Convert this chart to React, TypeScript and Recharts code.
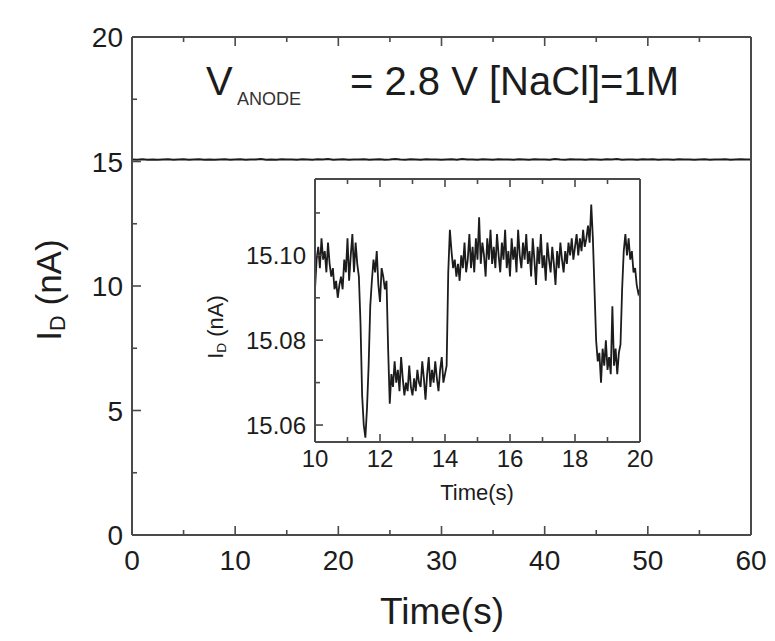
import { LineChart, Line, XAxis, YAxis, Label } from "recharts";

const FONT = "Arial, 'Liberation Sans', Helvetica, sans-serif";
const AXIS = "#4a4a4a";
const INK = "#1c1c1c";

// main trace: sampled every 0.5 s from 0 s
const mainT0 = 0;
const mainDt = 0.5;
const mainCurrent = [
  15.08, 15.07, 15.09, 15.07, 15.08, 15.07, 15.08, 15.09, 15.07, 15.08,
  15.09, 15.07, 15.08, 15.09, 15.07, 15.08, 15.07, 15.08, 15.09, 15.07,
  15.08, 15.09, 15.07, 15.08, 15.08, 15.10, 15.07, 15.08, 15.07, 15.09,
  15.08, 15.08, 15.07, 15.09, 15.08, 15.07, 15.09, 15.08, 15.10, 15.07,
  15.08, 15.09, 15.07, 15.08, 15.08, 15.09, 15.07, 15.08, 15.09, 15.07,
  15.08, 15.10, 15.08, 15.07, 15.09, 15.08, 15.07, 15.09, 15.08, 15.08,
  15.07, 15.08, 15.09, 15.07, 15.10, 15.08, 15.08, 15.07, 15.09, 15.08,
  15.07, 15.09, 15.08, 15.08, 15.07, 15.09, 15.08, 15.07, 15.09, 15.08,
  15.08, 15.07, 15.10, 15.08, 15.07, 15.09, 15.08, 15.08, 15.07, 15.09,
  15.08, 15.07, 15.09, 15.08, 15.10, 15.07, 15.08, 15.08, 15.07, 15.09,
  15.08, 15.09, 15.07, 15.08, 15.08, 15.07, 15.09, 15.08, 15.08, 15.07,
  15.08, 15.09, 15.07, 15.08, 15.08, 15.09, 15.07, 15.08, 15.09, 15.08,
  15.08,
];
const mainXTicks = [0, 5, 10, 15, 20, 25, 30, 35, 40, 45, 50, 55, 60];
const mainYTicks = [0, 2.5, 5, 7.5, 10, 12.5, 15, 17.5, 20];

// inset trace: sampled every 0.05 s from 10 s
const insetT0 = 10;
const insetDt = 0.05;
const insetCurrent = [
  // 10.00 - 11.35
  15.092, 15.099, 15.102, 15.097, 15.104, 15.099, 15.101, 15.096, 15.103, 15.098,
  15.095, 15.097, 15.092, 15.094, 15.090, 15.093, 15.095, 15.092, 15.099, 15.096,
  15.104, 15.094, 15.100, 15.105, 15.096, 15.103, 15.098, 15.095,
  // 11.40 - 11.75
  15.084, 15.067, 15.060, 15.057, 15.064, 15.074, 15.088, 15.094,
  // 11.80 - 12.30
  15.099, 15.096, 15.101, 15.093, 15.089, 15.097, 15.095, 15.092, 15.094,
  15.078, 15.065,
  // 12.35 - 14.05
  15.072, 15.069, 15.075, 15.070, 15.073, 15.068, 15.076, 15.071, 15.067, 15.070,
  15.068, 15.074, 15.069, 15.067, 15.071, 15.068, 15.073, 15.070, 15.069, 15.075,
  15.071, 15.066, 15.072, 15.076, 15.069, 15.073, 15.070, 15.075, 15.071, 15.068,
  15.073, 15.076, 15.070, 15.072, 15.074,
  // 14.10 - 14.15
  15.096, 15.106,
  // 14.20 - 18.55
  15.101, 15.097, 15.099, 15.095, 15.098, 15.094, 15.100, 15.097, 15.103, 15.096,
  15.099, 15.105, 15.097, 15.102, 15.096, 15.104, 15.099, 15.109, 15.098, 15.103,
  15.100, 15.095, 15.104, 15.099, 15.106, 15.098, 15.102, 15.097, 15.105, 15.100,
  15.096, 15.103, 15.099, 15.106, 15.097, 15.101, 15.095, 15.104, 15.099, 15.102,
  15.096, 15.106, 15.100, 15.097, 15.103, 15.099, 15.105, 15.098, 15.101, 15.095,
  15.104, 15.099, 15.093, 15.102, 15.098, 15.105, 15.097, 15.100, 15.094, 15.103,
  15.099, 15.096, 15.102, 15.098, 15.093, 15.101, 15.097, 15.103, 15.099, 15.096,
  15.101, 15.098, 15.103, 15.100, 15.104, 15.099, 15.102, 15.105, 15.100, 15.104,
  15.101, 15.106, 15.102, 15.104, 15.107, 15.103, 15.112, 15.104,
  // 18.60 - 18.70
  15.092, 15.080, 15.075,
  // 18.75 - 19.40
  15.077, 15.070, 15.078, 15.074, 15.080, 15.073, 15.076, 15.072, 15.088, 15.074,
  15.078, 15.072, 15.077, 15.079,
  // 19.45 - 20.00
  15.092, 15.101, 15.105, 15.100, 15.104, 15.099, 15.101, 15.096, 15.097, 15.093,
  15.091, 15.092,
];
const insetXTicks = [10, 11, 12, 13, 14, 15, 16, 17, 18, 19, 20];
const insetYTicks = [15.06, 15.07, 15.08, 15.09, 15.1, 15.11];

const mainData = mainCurrent.map((v, i) => ({ t: +(mainT0 + i * mainDt).toFixed(3), v }));
const insetData = insetCurrent.map((v, i) => ({ t: +(insetT0 + i * insetDt).toFixed(3), v }));

type Side = "bottom" | "top" | "left" | "right";

function makeTick(
  side: Side,
  isMajor: (v: number) => boolean,
  o: { major: number; minor: number; fmt?: (v: number) => string; size?: number; gap?: number }
) {
  return (props: any) => {
    const { x, y, payload } = props;
    const v = payload.value as number;
    const major = isMajor(v);
    const len = major ? o.major : o.minor;
    let x2 = x;
    let y2 = y;
    if (side === "bottom") y2 = y - len;
    if (side === "top") y2 = y + len;
    if (side === "left") x2 = x + len;
    if (side === "right") x2 = x - len;
    let label = null;
    if (o.fmt && major) {
      const fs = o.size || 28;
      if (side === "bottom") {
        label = (
          <text x={x} y={y + (o.gap || 0)} textAnchor="middle" fontSize={fs} fill={INK} fontFamily={FONT}>
            {o.fmt(v)}
          </text>
        );
      } else {
        label = (
          <text x={x - (o.gap || 0)} y={y + fs * 0.36} textAnchor="end" fontSize={fs} fill={INK} fontFamily={FONT}>
            {o.fmt(v)}
          </text>
        );
      }
    }
    return (
      <g>
        <line x1={x} y1={y} x2={x2} y2={y2} stroke={AXIS} strokeWidth={1.6} />
        {label}
      </g>
    );
  };
}

const mainXMajor = (v: number) => v % 10 === 0;
const mainYMajor = (v: number) => v % 5 === 0;
const insetXMajor = (v: number) => Math.round(v) % 2 === 0;
const insetYMajor = (v: number) => Math.round(v * 100) % 2 === 0;

const axisLine = { stroke: AXIS, strokeWidth: 2 };
const bare = { tickLine: false, tickSize: 0, tickMargin: 0, interval: 0 as const };

function YLabel(cx: number, cy: number, size: number, sub: number) {
  return (
    <text
      x={cx}
      y={cy}
      transform={`rotate(-90 ${cx} ${cy})`}
      textAnchor="middle"
      dominantBaseline="central"
      fontSize={size}
      fill={INK}
      fontFamily={FONT}
    >
      I
      <tspan fontSize={size * 0.62} dy={sub}>
        D
      </tspan>
      <tspan dy={-sub}> (nA)</tspan>
    </text>
  );
}

export default function App() {
  return (
    <div style={{ position: "absolute", left: 0, top: 0, width: 775, height: 641, background: "#fff" }}>
      <LineChart width={775} height={641} data={mainData} margin={{ top: 0, right: 0, bottom: 0, left: 0 }}>
        <XAxis
          xAxisId="b"
          dataKey="t"
          type="number"
          domain={[0, 60]}
          ticks={mainXTicks}
          height={106}
          axisLine={axisLine}
          {...bare}
          tick={makeTick("bottom", mainXMajor, { major: 9, minor: 5, fmt: (v) => String(v), size: 28, gap: 35 })}
        >
          <Label
            content={() => (
              <text x={442} y={624} textAnchor="middle" fontSize={37} fill={INK} fontFamily={FONT}>
                Time(s)
              </text>
            )}
          />
        </XAxis>
        <XAxis
          xAxisId="top"
          orientation="top"
          dataKey="t"
          type="number"
          domain={[0, 60]}
          ticks={mainXTicks}
          height={37}
          axisLine={axisLine}
          {...bare}
          tick={makeTick("top", mainXMajor, { major: 9, minor: 5 })}
        />
        <YAxis
          yAxisId="l"
          type="number"
          domain={[0, 20]}
          ticks={mainYTicks}
          width={132}
          axisLine={axisLine}
          {...bare}
          tick={makeTick("left", mainYMajor, { major: 9, minor: 5, fmt: (v) => String(v), size: 28, gap: 9 })}
        >
          <Label content={() => YLabel(48, 290, 35, 9)} />
        </YAxis>
        <YAxis
          yAxisId="r"
          orientation="right"
          type="number"
          domain={[0, 20]}
          ticks={mainYTicks}
          width={24}
          axisLine={axisLine}
          {...bare}
          tick={makeTick("right", mainYMajor, { major: 9, minor: 5 })}
        />
        <Line
          xAxisId="b"
          yAxisId="l"
          dataKey="v"
          type="linear"
          stroke={INK}
          strokeWidth={2.2}
          dot={false}
          isAnimationActive={false}
        />
      </LineChart>

      <div style={{ position: "absolute", left: 180, top: 170 }}>
        <LineChart width={480} height={340} data={insetData} margin={{ top: 0, right: 0, bottom: 0, left: 0 }}>
          <XAxis
            xAxisId="b"
            dataKey="t"
            type="number"
            domain={[10, 20]}
            ticks={insetXTicks}
            height={68}
            axisLine={axisLine}
            {...bare}
            tick={makeTick("bottom", insetXMajor, { major: 8, minor: 5, fmt: (v) => String(v), size: 24, gap: 25 })}
          >
            <Label
              content={() => (
                <text x={297} y={330} textAnchor="middle" fontSize={22} fill={INK} fontFamily={FONT}>
                  Time(s)
                </text>
              )}
            />
          </XAxis>
          <XAxis
            xAxisId="top"
            orientation="top"
            dataKey="t"
            type="number"
            domain={[10, 20]}
            ticks={insetXTicks}
            height={9}
            axisLine={axisLine}
            {...bare}
            tick={makeTick("top", insetXMajor, { major: 8, minor: 5 })}
          />
          <YAxis
            yAxisId="l"
            type="number"
            domain={[15.056, 15.118]}
            ticks={insetYTicks}
            width={135}
            axisLine={axisLine}
            {...bare}
            tick={makeTick("left", insetYMajor, { major: 8, minor: 5, fmt: (v) => v.toFixed(2), size: 24, gap: 9 })}
          >
            <Label content={() => YLabel(35, 157, 22, 6)} />
          </YAxis>
          <YAxis
            yAxisId="r"
            orientation="right"
            type="number"
            domain={[15.056, 15.118]}
            ticks={insetYTicks}
            width={20}
            axisLine={axisLine}
            {...bare}
            tick={makeTick("right", insetYMajor, { major: 8, minor: 5 })}
          />
          <Line
            xAxisId="b"
            yAxisId="l"
            dataKey="v"
            type="linear"
            stroke={INK}
            strokeWidth={1.8}
            dot={false}
            isAnimationActive={false}
          />
        </LineChart>
      </div>

      <svg width={775} height={641} style={{ position: "absolute", left: 0, top: 0, pointerEvents: "none" }}>
        <text x={206} y={95} fontSize={40} fill={INK} fontFamily={FONT}>
          V
        </text>
        <text x={237} y={105} fontSize={18} fill="#333" fontFamily={FONT}>
          ANODE
        </text>
        <text x={350} y={95} fontSize={40} fill={INK} fontFamily={FONT}>
          = 2.8 V [NaCl]=1M
        </text>
      </svg>
    </div>
  );
}
